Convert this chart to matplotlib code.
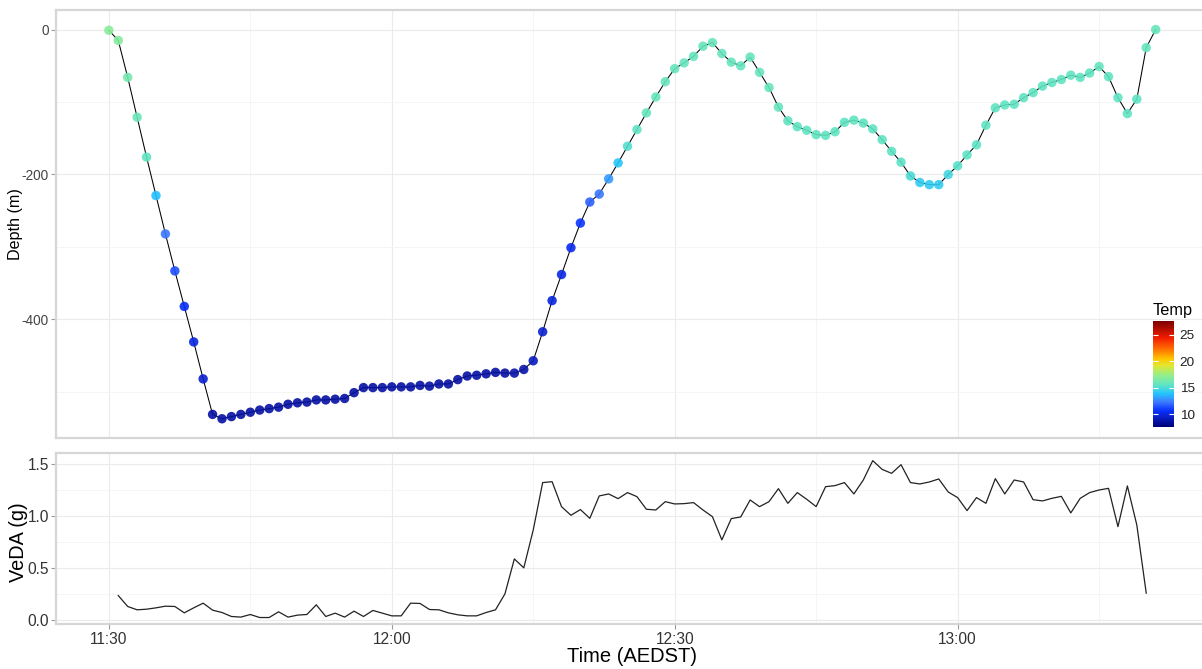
import numpy as np
import matplotlib
matplotlib.use("Agg")
import matplotlib.pyplot as plt
from matplotlib.colors import LinearSegmentedColormap, Normalize
from matplotlib.ticker import FixedLocator

plt.rcParams["font.family"] = ["Liberation Sans", "DejaVu Sans"]
plt.rcParams["axes.unicode_minus"] = False

# dive profile, one sample per minute from 11:30
depth = [-1, -15, -66, -121, -176, -229, -282, -333, -382, -431,
         -482, -531, -537, -534, -531, -528, -525, -523, -521, -517,
         -515, -514, -511, -511, -510, -509, -501, -494, -494, -494,
         -493, -493, -493, -491, -492, -489, -489, -483, -478, -477,
         -475, -473, -474, -474, -469, -457, -417, -374, -338, -301,
         -267, -238, -227, -206, -184, -161, -138, -115, -93, -72,
         -54, -46, -37, -23, -18, -33, -45, -50, -38, -59,
         -80, -107, -126, -134, -139, -145, -146, -141, -128, -125,
         -129, -137, -152, -168, -183, -202, -211, -214, -214, -200,
         -188, -173, -159, -132, -108, -104, -103, -94, -87, -78,
         -73, -69, -63, -66, -60, -51, -65, -94, -116, -96,
         -25, 0]

temp = [17.0, 16.8, 16.3, 15.9, 15.6, 13.8, 12.3, 11.3, 10.4, 10.0,
        9.6, 8.6, 8.6, 8.6, 8.6, 8.6, 8.6, 8.6, 8.6, 8.6,
        8.6, 8.6, 8.6, 8.6, 8.6, 8.6, 8.6, 8.6, 8.6, 8.6,
        8.6, 8.6, 8.6, 8.6, 8.6, 8.6, 8.6, 8.6, 8.6, 8.6,
        8.6, 8.6, 8.6, 8.7, 8.8, 9.2, 9.6, 9.9, 10.1, 10.3,
        10.8, 11.8, 12.3, 13.0, 14.0, 15.2, 15.6, 15.7, 15.7, 15.7,
        15.7, 15.7, 15.7, 15.8, 15.8, 15.7, 15.7, 15.7, 15.7, 15.7,
        15.7, 15.7, 15.6, 15.6, 15.6, 15.6, 15.6, 15.6, 15.6, 15.6,
        15.6, 15.6, 15.6, 15.5, 15.4, 15.0, 14.2, 14.2, 14.2, 14.8,
        15.3, 15.5, 15.5, 15.6, 15.6, 15.6, 15.6, 15.6, 15.6, 15.6,
        15.6, 15.6, 15.6, 15.6, 15.6, 15.7, 15.6, 15.6, 15.6, 15.6,
        15.7, 15.8]

# vertical dynamic acceleration, starts one minute later
veda = [0.233, 0.128, 0.096, 0.102, 0.115, 0.131, 0.128, 0.067, 0.115, 0.160,
        0.093, 0.070, 0.032, 0.026, 0.051, 0.022, 0.022, 0.077, 0.026, 0.045,
        0.051, 0.144, 0.032, 0.064, 0.026, 0.083, 0.032, 0.090, 0.064, 0.038,
        0.038, 0.160, 0.157, 0.099, 0.096, 0.067, 0.048, 0.038, 0.038, 0.070,
        0.096, 0.249, 0.585, 0.499, 0.863, 1.318, 1.327, 1.087, 1.004, 1.059,
        0.975, 1.190, 1.209, 1.164, 1.222, 1.183, 1.062, 1.055, 1.135, 1.113,
        1.116, 1.126, 1.055, 0.991, 0.768, 0.972, 0.988, 1.151, 1.087, 1.135,
        1.260, 1.119, 1.222, 1.158, 1.087, 1.279, 1.289, 1.318, 1.209, 1.343,
        1.529, 1.445, 1.407, 1.490, 1.318, 1.305, 1.324, 1.353, 1.228, 1.174,
        1.049, 1.174, 1.119, 1.356, 1.209, 1.343, 1.324, 1.154, 1.142, 1.167,
        1.186, 1.027, 1.167, 1.222, 1.247, 1.263, 0.895, 1.286, 0.911, 0.256]

time_ticks = [0, 30, 60, 90]
time_labels = ["11:30", "12:00", "12:30", "13:00"]

t_depth = np.arange(len(depth))
t_veda = np.arange(1, len(veda) + 1)

temp_cmap = LinearSegmentedColormap.from_list("temp", [
    (0.00, "#00007a"), (0.09, "#0a1fc8"), (0.15, "#0830ff"),
    (0.24, "#3f80ff"), (0.31, "#22c4ff"), (0.39, "#5ee3c6"),
    (0.48, "#90ee90"), (0.58, "#e3e62e"), (0.64, "#ffc400"),
    (0.74, "#ff6a00"), (0.84, "#f21c00"), (1.00, "#7a0000")])
norm = Normalize(7.6, 27.7)

fig = plt.figure(figsize=(12.02, 6.69), dpi=100)
ax1 = fig.add_axes([0.047, 0.3448, 0.958, 0.6403])
ax2 = fig.add_axes([0.047, 0.0673, 0.958, 0.2552])

xlim = (-5.55, 116.55)
for ax in (ax1, ax2):
    ax.set_xlim(*xlim)
    ax.xaxis.set_major_locator(FixedLocator(time_ticks))
    ax.xaxis.set_minor_locator(FixedLocator([15, 45, 75, 105]))
    ax.grid(True, which="major", color="#ebebeb", lw=0.8)
    ax.grid(True, which="minor", color="#f4f4f4", lw=0.6)
    ax.set_axisbelow(True)
    for s in ax.spines.values():
        s.set_color("#d6d6d6")
        s.set_linewidth(1.6)
    ax.tick_params(which="both", colors="#9a9a9a", length=3.5, width=0.8, pad=2)
    ax.tick_params(which="minor", length=0)

# depth trace coloured by temperature
ax1.plot(t_depth, depth, color="black", lw=0.75, zorder=2)
ax1.scatter(t_depth, depth, c=temp, cmap=temp_cmap, norm=norm, s=46,
            alpha=0.9, linewidths=0, zorder=3)
ax1.set_ylim(-564, 27)
ax1.yaxis.set_major_locator(FixedLocator([0, -200, -400]))
ax1.yaxis.set_minor_locator(FixedLocator([-100, -300, -500]))
ax1.set_yticklabels(["0", "-200", "-400"], fontsize=9.8, color="#444444")
ax1.tick_params(axis="x", which="both", length=0, labelbottom=False)
ax1.set_ylabel("Depth (m)", fontsize=11.6)
ax1.yaxis.set_label_coords(-0.029, 0.5)

ax2.plot(t_veda, veda, color="#222222", lw=0.9)
ax2.set_ylim(-0.04, 1.6)
ax2.yaxis.set_major_locator(FixedLocator([0, 0.5, 1.0, 1.5]))
ax2.yaxis.set_minor_locator(FixedLocator([0.25, 0.75, 1.25]))
ax2.set_yticklabels(["0.0", "0.5", "1.0", "1.5"], fontsize=11.2, color="#333333")
ax2.set_xticklabels(time_labels, fontsize=11.2, color="#333333")
ax2.set_ylabel("VeDA (g)", fontsize=14.3)
ax2.yaxis.set_label_coords(-0.025, 0.48)
ax2.set_xlabel("Time (AEDST)", fontsize=14.5, labelpad=0)

# temperature legend
cax = fig.add_axes([0.9592, 0.3622, 0.0175, 0.1584])
sm = plt.cm.ScalarMappable(norm=norm, cmap=temp_cmap)
cb = fig.colorbar(sm, cax=cax, ticks=[10, 15, 20, 25])
cb.outline.set_visible(False)
cax.tick_params(which="both", direction="in", color="white", length=3.5,
                width=0.8, left=True, right=True, labelsize=9.7,
                labelcolor="#222222", pad=4)
cax.yaxis.set_ticks_position("both")
cax.tick_params(labelleft=False, labelright=True)
cax.set_title("Temp", fontsize=11.7, loc="left", pad=4, x=0.0)

fig.savefig("out.png", dpi=100)
